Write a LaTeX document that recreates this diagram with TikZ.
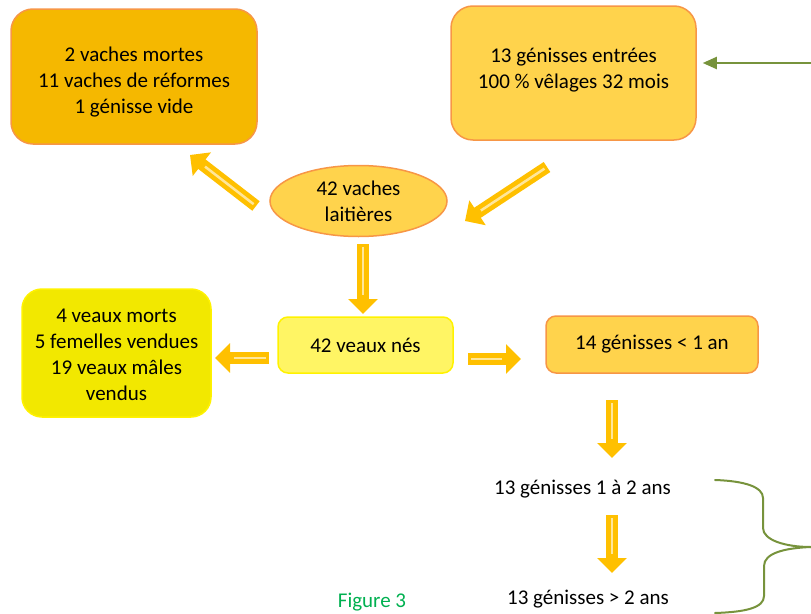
\documentclass[tikz,border=0pt]{standalone}
\usepackage{fontspec}
\setmainfont{Carlito}
\usetikzlibrary{arrows.meta,calc,shapes.geometric}
\definecolor{boxdark}{HTML}{F5B800}
\definecolor{boxmid}{HTML}{FFD34C}
\definecolor{boxlight}{HTML}{FFF564}
\definecolor{boxyel}{HTML}{F2E800}
\definecolor{edgeorange}{HTML}{F79646}
\definecolor{edgeyel}{HTML}{FFF200}
\definecolor{arrowgold}{HTML}{FFC000}
\definecolor{stripecol}{HTML}{FFE699}
\definecolor{leaf}{HTML}{77933C}
\definecolor{figgreen}{HTML}{00B050}
\tikzset{
  box/.style={draw=edgeorange, line width=1.5pt, align=center, inner sep=0pt},
  txt/.style={align=center, font=\fontsize{21}{26}\selectfont, text=black},
  barrow/.style={draw=arrowgold, line width=12pt, -{Triangle[width=29pt,length=15pt]}},
  stripe/.style={draw=stripecol, line width=2.5pt},
  greenarrow/.style={draw=leaf, line width=2pt, -{Triangle[width=12pt,length=14pt]}},
}
\newcommand\blockarrow[2]{%
  \draw[barrow] (#1) -- (#2);
  \draw[stripe] ($(#1)!3pt!(#2)$) -- ($(#2)!19pt!(#1)$);}
\begin{document}
\begin{tikzpicture}[x=1pt,y=-1pt]
\useasboundingbox (0,0) rectangle (811,613);
% boxes
\node[box, fill=boxdark, minimum width=246pt, minimum height=135pt, rounded corners=22pt] (A) at (134,76.5) {};
\node[txt] (At) at (134,82) {2 vaches mortes\\11 vaches de réformes\\1 génisse vide};
\node[box, fill=boxmid, minimum width=245pt, minimum height=134pt, rounded corners=22pt] (B) at (573.5,73) {};
\node[txt] (Bt) at (573.5,70) {13 génisses entrées\\100 \% vêlages 32 mois};
\node[box, ellipse, fill=boxmid, minimum width=177pt, minimum height=71pt, txt] (L) at (358.5,201) {42 vaches\\laitières};
\node[box, draw=edgeyel, fill=boxlight, minimum width=175pt, minimum height=56pt, rounded corners=10pt, txt] (C) at (365.5,345) {42 veaux nés};
\node[box, draw=edgeyel, fill=boxyel, minimum width=189pt, minimum height=128pt, rounded corners=20pt] (D) at (116.5,353) {};
\node[txt] (Dt) at (116.5,355) {4 veaux morts\\5 femelles vendues\\19 veaux mâles\\vendus};
\node[box, fill=boxmid, minimum width=212pt, minimum height=57pt, rounded corners=10pt, txt] (E) at (652,344.5) {14 génisses < 1 an};
\node[txt] (G1) at (582.5,489) {13 génisses 1 à 2 ans};
\node[txt] (G2) at (588,599) {13 génisses > 2 ans};
\node[txt, text=figgreen, anchor=base] (F) at (372,607) {Figure 3};
% block arrows
\coordinate (a1s) at (256,206); \coordinate (a1e) at (190,155);
\coordinate (a2s) at (547,167); \coordinate (a2e) at (465,221);
\coordinate (a3s) at (363,244); \coordinate (a3e) at (363,314);
\coordinate (a4s) at (269,358); \coordinate (a4e) at (215,358);
\coordinate (a5s) at (468,359); \coordinate (a5e) at (521,359);
\coordinate (a6s) at (612,400); \coordinate (a6e) at (612,458);
\coordinate (a7s) at (612,515); \coordinate (a7e) at (612,573);
\blockarrow{a1s}{a1e}
\blockarrow{a2s}{a2e}
\blockarrow{a3s}{a3e}
\blockarrow{a4s}{a4e}
\blockarrow{a5s}{a5e}
\blockarrow{a6s}{a6e}
\blockarrow{a7s}{a7e}
% green arrow
\coordinate (gs) at (812,63);
\draw[greenarrow, shorten >=6pt] (gs) -- (gs -| B.east);
% brace
\draw[leaf, line width=2pt, line cap=round]
  (715,480) .. controls (745,481) and (763,487) .. (763,498)
  -- (763,528) .. controls (763,540) and (785,547) .. (811,547);
\draw[leaf, line width=2pt, line cap=round]
  (811,547) .. controls (785,548) and (764,553) .. (764,566)
  -- (764,596) .. controls (764,608) and (745,612) .. (715,613);
\end{tikzpicture}
\end{document}
